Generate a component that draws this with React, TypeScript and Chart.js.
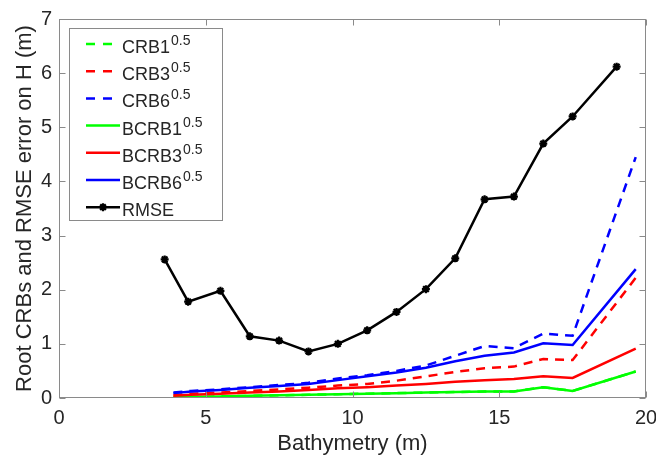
import React, { useEffect, useRef } from "react";
import { Chart, registerables } from "chart.js";

Chart.register(...registerables);

// ---------- data ----------
const rmseDepth = [3.6, 4.4, 5.5, 6.5, 7.5, 8.5, 9.5, 10.5, 11.5, 12.5, 13.5, 14.5, 15.5, 16.5, 17.5, 19.0];
const rmseValues = [2.56, 1.78, 1.98, 1.14, 1.06, 0.86, 1.0, 1.25, 1.59, 2.01, 2.58, 3.67, 3.72, 4.7, 5.2, 6.12];

const crbDepth = [3.9, 4.5, 5.5, 6.5, 7.5, 8.5, 9.5, 10.5, 11.5, 12.5, 13.5, 14.5, 15.5, 16.5, 17.5, 19.65];
const crb1 = [0.01, 0.02, 0.03, 0.04, 0.05, 0.06, 0.07, 0.08, 0.09, 0.1, 0.11, 0.12, 0.12, 0.2, 0.13, 0.49];
const crb3 = [0.05, 0.08, 0.1, 0.13, 0.16, 0.19, 0.23, 0.26, 0.32, 0.4, 0.48, 0.55, 0.58, 0.72, 0.7, 2.22];
const crb6 = [0.1, 0.13, 0.16, 0.2, 0.24, 0.28, 0.36, 0.42, 0.5, 0.6, 0.78, 0.96, 0.92, 1.19, 1.15, 4.45];
const bcrb1 = [0.01, 0.02, 0.03, 0.04, 0.05, 0.06, 0.07, 0.08, 0.09, 0.1, 0.11, 0.12, 0.12, 0.2, 0.13, 0.49];
const bcrb3 = [0.04, 0.06, 0.08, 0.1, 0.12, 0.15, 0.18, 0.2, 0.23, 0.26, 0.3, 0.33, 0.35, 0.4, 0.37, 0.91];
const bcrb6 = [0.09, 0.12, 0.15, 0.19, 0.22, 0.26, 0.33, 0.4, 0.47, 0.56, 0.68, 0.78, 0.84, 1.01, 0.98, 2.38];

const xTicks = [0, 5, 10, 15, 20];
const yTicks = [0, 1, 2, 3, 4, 5, 6, 7];

const seriesNames = ["CRB1", "CRB3", "CRB6", "BCRB1", "BCRB3", "BCRB6", "RMSE"];
const superscripts = ["0.5", "0.5", "0.5", "0.5", "0.5", "0.5", ""];
const seriesColors = ["#00ff00", "#ff0000", "#0000ff", "#00ff00", "#ff0000", "#0000ff", "#000000"];

const xTitle = "Bathymetry (m)";
const yTitle = "Root CRBs and RMSE error on H (m)";

const FONT = '"Liberation Sans", Arial, Helvetica, sans-serif';
const TEXT = "#262626";
const AXIS = "#8a8a8a";
const DASH = [9, 7];

const pts = (xs: number[], ys: number[]) => xs.map((x, i) => ({ x, y: ys[i] }));

const boxPlugin = {
  id: "matlabBox",
  afterDraw(chart: any) {
    const { ctx, chartArea: a, scales } = chart;
    const L = Math.round(a.left) + 0.5;
    const R = Math.round(a.right) - 0.5;
    const T = Math.round(a.top) + 0.5;
    const B = Math.round(a.bottom) - 0.5;
    ctx.save();
    ctx.strokeStyle = AXIS;
    ctx.lineWidth = 1;
    ctx.setLineDash([]);
    ctx.strokeRect(L, T, R - L, B - T);
    const tl = 6;
    ctx.beginPath();
    xTicks.forEach((v) => {
      const px = Math.round(scales.x.getPixelForValue(v)) + 0.5;
      ctx.moveTo(px, B);
      ctx.lineTo(px, B - tl);
      ctx.moveTo(px, T);
      ctx.lineTo(px, T + tl);
    });
    yTicks.forEach((v) => {
      const py = Math.round(scales.y.getPixelForValue(v)) + 0.5;
      ctx.moveTo(L, py);
      ctx.lineTo(L + tl, py);
      ctx.moveTo(R, py);
      ctx.lineTo(R - tl, py);
    });
    ctx.stroke();

    // legend
    const lx = 69.5, ly = 28.5, lw = 153, lh = 192;
    ctx.fillStyle = "#ffffff";
    ctx.fillRect(lx, ly, lw, lh);
    ctx.strokeStyle = AXIS;
    ctx.strokeRect(lx, ly, lw, lh);
    const rowY0 = 44;
    const rowStep = 27.2;
    seriesNames.forEach((name, i) => {
      const y = rowY0 + i * rowStep;
      const dashed = i < 3;
      ctx.save();
      ctx.strokeStyle = seriesColors[i];
      ctx.lineWidth = 2.5;
      ctx.setLineDash(dashed ? [9, 8] : []);
      ctx.beginPath();
      ctx.moveTo(86, y);
      ctx.lineTo(120, y);
      ctx.stroke();
      ctx.setLineDash([]);
      if (name === "RMSE") {
        const r = 4;
        const cx = 103;
        ctx.lineWidth = 2.2;
        ctx.beginPath();
        ctx.moveTo(cx - r, y); ctx.lineTo(cx + r, y);
        ctx.moveTo(cx, y - r); ctx.lineTo(cx, y + r);
        const d = r * 0.7071;
        ctx.moveTo(cx - d, y - d); ctx.lineTo(cx + d, y + d);
        ctx.moveTo(cx - d, y + d); ctx.lineTo(cx + d, y - d);
        ctx.stroke();
      }
      ctx.restore();
      ctx.fillStyle = TEXT;
      ctx.textBaseline = "alphabetic";
      ctx.textAlign = "left";
      ctx.font = `18px ${FONT}`;
      ctx.fillText(name, 122, y + 9);
      const w = ctx.measureText(name).width;
      if (superscripts[i]) {
        ctx.font = `14px ${FONT}`;
        ctx.fillText(superscripts[i], 122 + w + 1, y + 1);
      }
    });
    ctx.restore();
  },
};

export default function App() {
  const ref = useRef<HTMLCanvasElement | null>(null);

  useEffect(() => {
    if (!ref.current) return;
    const line = (label: string, xs: number[], ys: number[], color: string, dashed: boolean, order: number) => ({
      label,
      data: pts(xs, ys),
      borderColor: color,
      backgroundColor: color,
      borderWidth: 2.5,
      borderDash: dashed ? DASH : [],
      pointRadius: 0,
      tension: 0,
      fill: false,
      order,
    });
    const chart = new Chart(ref.current, {
      type: "line",
      data: {
        datasets: [
          line("CRB1", crbDepth, crb1, seriesColors[0], true, 6),
          line("CRB3", crbDepth, crb3, seriesColors[1], true, 5),
          line("CRB6", crbDepth, crb6, seriesColors[2], true, 4),
          line("BCRB1", crbDepth, bcrb1, seriesColors[3], false, 3),
          line("BCRB3", crbDepth, bcrb3, seriesColors[4], false, 2),
          line("BCRB6", crbDepth, bcrb6, seriesColors[5], false, 1),
          {
            label: "RMSE",
            data: pts(rmseDepth, rmseValues),
            borderColor: "#000000",
            backgroundColor: "#000000",
            borderWidth: 2.5,
            pointStyle: "star",
            pointRadius: 4,
            pointBorderWidth: 2.2,
            tension: 0,
            fill: false,
            order: 0,
          } as any,
        ],
      },
      options: {
        animation: false,
        responsive: false,
        maintainAspectRatio: false,
        layout: { padding: { top: 19, right: 10, left: 0, bottom: 0 } },
        plugins: { legend: { display: false }, tooltip: { enabled: false } },
        scales: {
          x: {
            type: "linear",
            min: 0,
            max: 20,
            grid: { display: false, drawTicks: false, tickLength: 0 },
            border: { display: false },
            afterBuildTicks: (s: any) => {
              s.ticks = xTicks.map((v) => ({ value: v }));
            },
            ticks: {
              color: TEXT,
              font: { family: FONT, size: 20 },
              padding: 8,
              maxRotation: 0,
              autoSkip: false,
            },
            title: {
              display: true,
              text: xTitle,
              color: TEXT,
              font: { family: FONT, size: 22, lineHeight: 1.0 },
              padding: { top: 0, bottom: 0.5 },
            },
            afterFit: (s: any) => {
              s.height = 57;
              s.paddingLeft = 0;
              s.paddingRight = 0;
            },
          },
          y: {
            type: "linear",
            min: 0,
            max: 7,
            grid: { display: false, drawTicks: false, tickLength: 0 },
            border: { display: false },
            afterBuildTicks: (s: any) => {
              s.ticks = yTicks.map((v) => ({ value: v }));
            },
            ticks: {
              color: TEXT,
              font: { family: FONT, size: 20 },
              padding: 7,
              autoSkip: false,
            },
            title: {
              display: true,
              text: yTitle,
              color: TEXT,
              font: { family: FONT, size: 22, lineHeight: 1.2 },
              padding: { top: 12, bottom: 0 },
            },
            afterFit: (s: any) => {
              s.width = 59;
              s.paddingTop = 0;
              s.paddingBottom = 0;
            },
          },
        },
      } as any,
      plugins: [boxPlugin],
    });
    return () => chart.destroy();
  }, []);

  return (
    <div style={{ position: "fixed", left: 0, top: 0, width: 656, height: 455, background: "#fff" }}>
      <canvas ref={ref} width={656} height={455} style={{ width: 656, height: 455, display: "block" }} />
    </div>
  );
}
